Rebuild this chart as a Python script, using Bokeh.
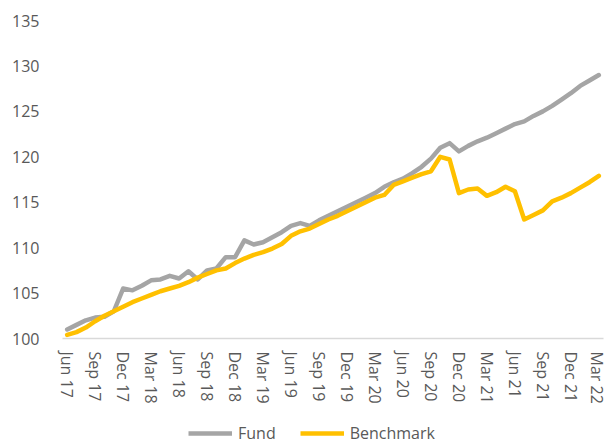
from bokeh.plotting import figure
from bokeh.layouts import column
from bokeh.models import ColumnDataSource, FixedTicker, Range1d, Legend, LegendItem
from bokeh.embed import file_html
from bokeh.resources import INLINE

months = ["Jun 17", "Jul 17", "Aug 17", "Sep 17", "Oct 17", "Nov 17", "Dec 17",
          "Jan 18", "Feb 18", "Mar 18", "Apr 18", "May 18", "Jun 18", "Jul 18",
          "Aug 18", "Sep 18", "Oct 18", "Nov 18", "Dec 18", "Jan 19", "Feb 19",
          "Mar 19", "Apr 19", "May 19", "Jun 19", "Jul 19", "Aug 19", "Sep 19",
          "Oct 19", "Nov 19", "Dec 19", "Jan 20", "Feb 20", "Mar 20", "Apr 20",
          "May 20", "Jun 20", "Jul 20", "Aug 20", "Sep 20", "Oct 20", "Nov 20",
          "Dec 20", "Jan 21", "Feb 21", "Mar 21", "Apr 21", "May 21", "Jun 21",
          "Jul 21", "Aug 21", "Sep 21", "Oct 21", "Nov 21", "Dec 21", "Jan 22",
          "Feb 22", "Mar 22"]

fund = [101.0, 101.5, 102.0, 102.3, 102.4, 103.0, 105.5, 105.3, 105.8, 106.4,
        106.5, 106.9, 106.6, 107.4, 106.5, 107.5, 107.7, 108.95, 108.95, 110.8,
        110.35, 110.6, 111.15, 111.7, 112.4, 112.7, 112.4, 113.0, 113.5, 114.0,
        114.5, 115.0, 115.5, 116.0, 116.7, 117.2, 117.6, 118.2, 118.9, 119.8,
        121.0, 121.5, 120.6, 121.2, 121.7, 122.1, 122.6, 123.1, 123.6, 123.9,
        124.5, 125.0, 125.6, 126.3, 127.0, 127.8, 128.4, 129.0]

benchmark = [100.4, 100.7, 101.2, 101.9, 102.5, 103.0, 103.5, 104.0, 104.4, 104.8,
             105.2, 105.5, 105.8, 106.2, 106.7, 107.1, 107.5, 107.7, 108.3, 108.8,
             109.2, 109.5, 109.9, 110.4, 111.3, 111.8, 112.1, 112.6, 113.1, 113.5,
             114.0, 114.5, 115.0, 115.5, 115.8, 116.9, 117.3, 117.7, 118.1, 118.4,
             120.0, 119.7, 116.0, 116.4, 116.5, 115.7, 116.1, 116.7, 116.2, 113.1,
             113.6, 114.1, 115.1, 115.5, 116.0, 116.6, 117.2, 117.9]

y_ticks = [100, 105, 110, 115, 120, 125, 130, 135]
series_names = ["Fund", "Benchmark"]
series_colors = ["#A5A5A5", "#FFC000"]

idx = list(range(len(months)))
source = ColumnDataSource(dict(x=idx, fund=fund, benchmark=benchmark))

FONT = "Open Sans"
TXT = "#595959"
LW = 4.5

p = figure(width=607, height=420, output_backend="svg", toolbar_location=None,
           x_range=Range1d(-0.5, len(months) - 0.5), y_range=Range1d(100, 135),
           min_border_left=62, min_border_right=4, min_border_top=20,
           min_border_bottom=82)
p.outline_line_color = None
p.xgrid.visible = False
p.ygrid.visible = False
p.background_fill_color = "white"
p.border_fill_color = "white"

p.line("x", "fund", source=source, line_color=series_colors[0], line_width=LW,
       line_join="round", line_cap="round")
p.line("x", "benchmark", source=source, line_color=series_colors[1], line_width=LW,
       line_join="round", line_cap="round")

# y axis
p.yaxis.ticker = FixedTicker(ticks=y_ticks)
p.yaxis.axis_line_color = None
p.yaxis.major_tick_line_color = None
p.yaxis.minor_tick_line_color = None
p.yaxis.major_tick_out = 0
p.yaxis.major_label_standoff = 23
p.yaxis.major_label_text_font = FONT
p.yaxis.major_label_text_font_size = "16px"
p.yaxis.major_label_text_color = TXT

# x axis
qticks = list(range(0, len(months), 3))
p.xaxis.ticker = FixedTicker(ticks=qticks)
p.xaxis.major_label_overrides = {i: months[i] for i in qticks}
p.xaxis.major_label_orientation = "vertical"
p.xaxis.axis_line_color = "#D9D9D9"
p.xaxis.axis_line_width = 1.5
p.xaxis.major_tick_line_color = None
p.xaxis.minor_tick_line_color = None
p.xaxis.major_tick_out = 0
p.xaxis.major_label_standoff = 13
p.xaxis.major_label_text_font = FONT
p.xaxis.major_label_text_font_size = "16px"
p.xaxis.major_label_text_color = TXT

# legend strip: a small figure whose view excludes the series, holding only the legend
lg = figure(width=607, height=20, output_backend="svg", toolbar_location=None,
            x_axis_location=None, y_axis_location=None,
            x_range=Range1d(-3, -2), y_range=Range1d(0, 1),
            min_border=0, min_border_left=0, min_border_right=0,
            min_border_top=0, min_border_bottom=0)
lg.grid.visible = False
lg.outline_line_color = None
lg.background_fill_color = "white"
lg.border_fill_color = "white"
l1 = lg.line("x", "fund", source=source, line_color=series_colors[0], line_width=LW)
l2 = lg.line("x", "benchmark", source=source, line_color=series_colors[1], line_width=LW)
legend = Legend(items=[LegendItem(label=series_names[0], renderers=[l1]),
                       LegendItem(label=series_names[1], renderers=[l2])],
                location=(126, -4), orientation="horizontal",
                padding=0, margin=0, spacing=24, label_standoff=6,
                glyph_width=44, glyph_height=14, label_height=14,
                label_text_font=FONT, label_text_font_size="16px",
                label_text_color=TXT, border_line_color=None,
                background_fill_alpha=0)
lg.add_layout(legend, "center")

layout = column(p, lg, spacing=0)
open("out.html", "w").write(file_html(layout, INLINE))
